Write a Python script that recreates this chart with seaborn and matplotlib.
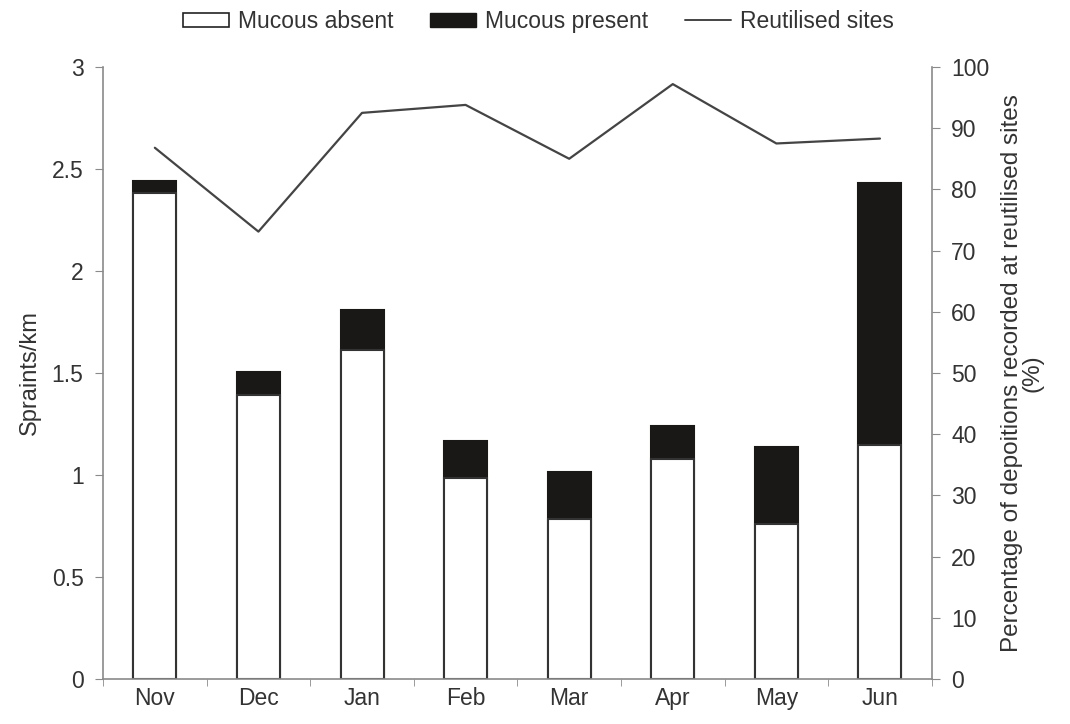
import numpy as np
import pandas as pd
import matplotlib
matplotlib.use("Agg")
import matplotlib.pyplot as plt
import seaborn as sns
from matplotlib.patches import Patch
from matplotlib.lines import Line2D
from matplotlib.ticker import FixedLocator

# data
months = ["Nov", "Dec", "Jan", "Feb", "Mar", "Apr", "May", "Jun"]
mucous_absent = [2.38, 1.39, 1.615, 0.985, 0.785, 1.08, 0.76, 1.145]
mucous_total = [2.44, 1.505, 1.81, 1.168, 1.016, 1.242, 1.139, 2.43]
reutilised_pct = [86.8, 73.1, 92.5, 93.8, 85.0, 97.2, 87.5, 88.3]
left_ticks = [0, 0.5, 1, 1.5, 2, 2.5, 3]
left_ticklabels = ["0", "0.5", "1", "1.5", "2", "2.5", "3"]
right_ticks = list(range(0, 101, 10))

sns.set_style("ticks")
plt.rcParams["font.family"] = ["Liberation Sans", "DejaVu Sans"]

df = pd.DataFrame({"month": months, "absent": mucous_absent,
                   "total": mucous_total, "pct": reutilised_pct})

grey = "#8a8a8a"
txt = "#333333"

fig = plt.figure(figsize=(10.7, 7.24), dpi=100)
ax = fig.add_axes([0.0963, 0.0622, 0.7745, 0.8453])

# stacked bars: full total in black, absent part in white on top
sns.barplot(data=df, x="month", y="total", color="#1a1816", edgecolor="#1a1816",
            linewidth=1.5, width=0.415, saturation=1, ax=ax)
sns.barplot(data=df, x="month", y="absent", color="white", edgecolor="#333333",
            linewidth=1.5, width=0.415, saturation=1, ax=ax)

ax.set_xlim(-0.5, 7.5)
ax.set_ylim(0, 3)
ax.set_yticks(left_ticks, left_ticklabels)
ax.set_xlabel("")
ax.set_ylabel("Spraints/km", fontsize=17, color=txt, labelpad=8)
ax.xaxis.set_minor_locator(FixedLocator(np.arange(-0.5, 8, 1)))
ax.tick_params(axis="x", which="major", length=0, labelsize=16.5, colors=txt, pad=6)
ax.tick_params(axis="x", which="minor", length=5, color=grey, direction="out")
ax.tick_params(axis="y", length=6, color=grey, labelsize=16.5, labelcolor=txt, direction="out", pad=8)
for side in ["left", "bottom"]:
    ax.spines[side].set_color(grey)
    ax.spines[side].set_linewidth(1.2)
ax.spines["top"].set_visible(False)
ax.spines["right"].set_visible(False)

ax2 = ax.twinx()
sns.lineplot(x=np.arange(len(months)), y=df["pct"], color="#444444", linewidth=1.6, ax=ax2)
ax2.set_ylim(0, 100)
ax2.set_yticks(right_ticks)
ax2.set_ylabel("Percentage of depoitions recorded at reutilised sites\n(%)",
               fontsize=17.5, color=txt, labelpad=8, linespacing=0.95)
ax2.tick_params(axis="y", length=6, color=grey, labelsize=16.5, labelcolor=txt, direction="out", pad=8)
ax2.spines["right"].set_color(grey)
ax2.spines["right"].set_linewidth(1.2)
for side in ["top", "left", "bottom"]:
    ax2.spines[side].set_visible(False)

handles = [Patch(facecolor="white", edgecolor="#222222", linewidth=1.2),
           Patch(facecolor="#1a1816", edgecolor="#1a1816"),
           Line2D([0], [0], color="#444444", linewidth=1.4)]
labels = ["Mucous absent", "Mucous present", "Reutilised sites"]
fig.legend(handles, labels, loc="upper center", bbox_to_anchor=(0.503, 1.015), ncol=3,
           frameon=False, fontsize=16.5, handlelength=2.0, handleheight=0.55,
           handletextpad=0.4, columnspacing=1.6, labelcolor=txt)

fig.savefig("out.png", dpi=100)
